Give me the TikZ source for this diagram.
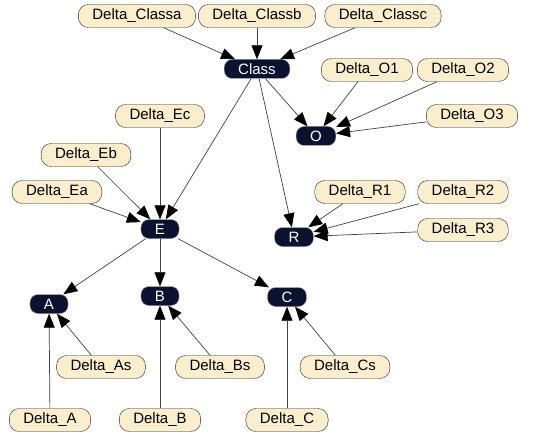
\documentclass[tikz,border=0pt]{standalone}
\usepackage{fontspec}
\setmainfont{Liberation Sans}
\usetikzlibrary{arrows.meta}
\definecolor{deltafill}{RGB}{250,238,205}
\definecolor{varfill}{RGB}{10,18,48}

\tikzset{
  delta/.style={draw=black!85,fill=deltafill,rounded corners=10pt,
    minimum height=23pt,inner xsep=14pt,inner ysep=1pt,
    font=\fontsize{15}{17}\selectfont},
  var/.style={draw=black!40,fill=varfill,text=white,rounded corners=8pt,
    minimum height=19pt,minimum width=35pt,inner xsep=14pt,inner ysep=1pt,
    font=\fontsize{15}{17}\selectfont},
  arr/.style={draw=black!75,line width=0.7pt,-{Triangle[length=14pt,width=11pt,black]}}
}

\begin{document}
\begin{tikzpicture}[x=1pt,y=-1pt]
    \useasboundingbox (0,0) rectangle (538,441);

    \node[var] (class) at (257, 69) {Class};
    \node[var] (o) at (316, 136) {O};
    \node[var] (e) at (160, 229) {E};
    \node[var] (r) at (294, 237) {R};
    \node[var] (a) at (49, 304) {A};
    \node[var] (b) at (160, 296) {B};
    \node[var] (c) at (287, 297) {C};

    \node[delta] (dclassa) at (137, 16) {Delta\_Classa};
    \node[delta] (dclassb) at (257, 16) {Delta\_Classb};
    \node[delta] (dclassc) at (383, 16) {Delta\_Classc};
    \node[delta] (do1) at (367, 70) {Delta\_O1};
    \node[delta] (do2) at (463, 70) {Delta\_O2};
    \node[delta] (do3) at (472, 116) {Delta\_O3};
    \node[delta] (dec) at (160, 116) {Delta\_Ec};
    \node[delta] (deb) at (86, 155) {Delta\_Eb};
    \node[delta] (dea) at (57, 192) {Delta\_Ea};
    \node[delta] (dr1) at (360, 192) {Delta\_R1};
    \node[delta] (dr2) at (463, 192) {Delta\_R2};
    \node[delta] (dr3) at (463, 230) {Delta\_R3};
    \node[delta] (das) at (101, 367) {Delta\_As};
    \node[delta] (dbs) at (220, 367) {Delta\_Bs};
    \node[delta] (dcs) at (345, 367) {Delta\_Cs};
    \node[delta] (da) at (50, 420) {Delta\_A};
    \node[delta] (db) at (160, 420) {Delta\_B};
    \node[delta] (dc) at (287, 420) {Delta\_C};

    \draw[arr] (dclassa) -- (class);
    \draw[arr] (dclassb) -- (class);
    \draw[arr] (dclassc) -- (class);

    \draw[arr] (class) -- (e);
    \draw[arr] (class) -- (o);
    \draw[arr] (class) -- (r);

    \draw[arr] (do1) -- (o);
    \draw[arr] (do2) -- (o);
    \draw[arr] (do3) -- (o);

    \draw[arr] (dec) -- (e);
    \draw[arr] (deb) -- (e);
    \draw[arr] (dea) -- (e);

    \draw[arr] (dr1) -- (r);
    \draw[arr] (dr2) -- (r);
    \draw[arr] (dr3) -- (r);

    \draw[arr] (e) -- (a);
    \draw[arr] (e) -- (b);
    \draw[arr] (e) -- (c);

    \draw[arr] (das) -- (a);
    \draw[arr] (da) -- (a);
    \draw[arr] (dbs) -- (b);
    \draw[arr] (db) -- (b);
    \draw[arr] (dcs) -- (c);
    \draw[arr] (dc) -- (c);
\end{tikzpicture}
\end{document}
